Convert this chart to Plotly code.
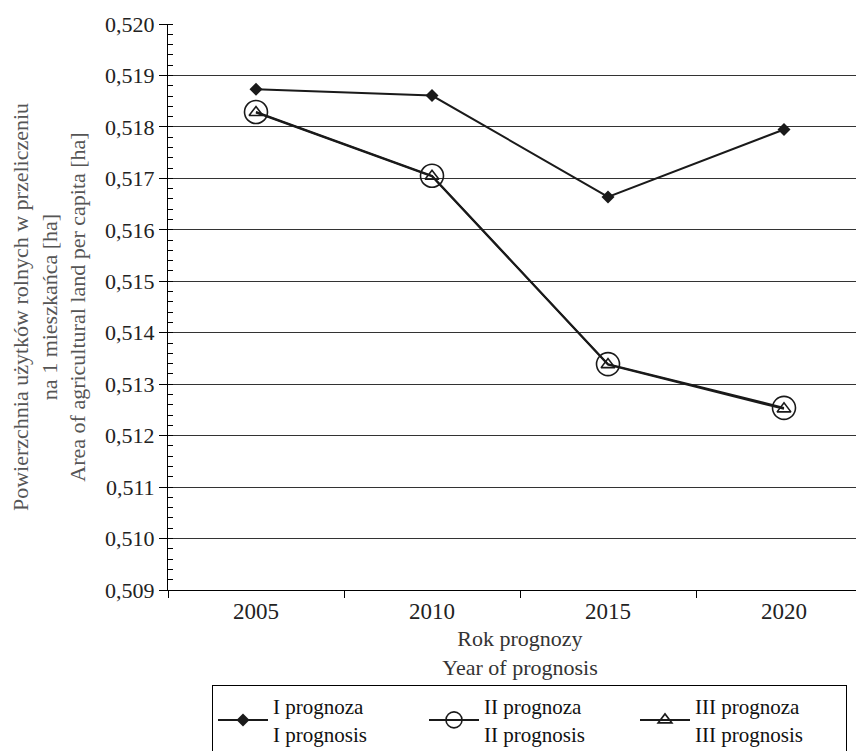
import plotly.graph_objects as go

years = ["2005", "2010", "2015", "2020"]
prog1 = [0.51873, 0.51861, 0.51664, 0.51795]
prog2 = [0.51829, 0.51705, 0.51339, 0.51254]
prog3 = [0.51828, 0.51704, 0.51338, 0.51252]

names = ["I prognoza<br>I prognosis", "II prognoza<br>II prognosis", "III prognoza<br>III prognosis"]
y_ticks = [0.509, 0.510, 0.511, 0.512, 0.513, 0.514, 0.515, 0.516, 0.517, 0.518, 0.519, 0.520]

FONT = "Liberation Serif"

fig = go.Figure()
fig.add_trace(go.Scatter(
    x=years, y=prog1, name=names[0], mode="lines+markers",
    line=dict(color="#1a1a1a", width=2),
    marker=dict(symbol="diamond", size=10, color="#1a1a1a"),
))
fig.add_trace(go.Scatter(
    x=years, y=prog2, name=names[1], mode="lines+markers",
    line=dict(color="#1a1a1a", width=2),
    marker=dict(symbol="circle-open", size=23, color="#1a1a1a", line=dict(width=1.6)),
))
fig.add_trace(go.Scatter(
    x=years, y=prog3, name=names[2], mode="lines+markers",
    line=dict(color="#1a1a1a", width=2),
    marker=dict(symbol="triangle-up-open", size=12, color="#1a1a1a", line=dict(width=1.6)),
))

fig.update_layout(
    width=864, height=751,
    margin=dict(l=160, r=0, t=16, b=169, autoexpand=False),
    paper_bgcolor="white", plot_bgcolor="white",
    separators=",.",
    font=dict(family=FONT, size=20, color="#222"),
    showlegend=True,
    legend=dict(
        orientation="h", x=0.0625, y=-0.168, xanchor="left", yanchor="top",
        bordercolor="black", borderwidth=1, bgcolor="white",
        font=dict(family=FONT, size=21, color="#111"),
        entrywidth=146, entrywidthmode="pixels",
        tracegroupgap=0, itemwidth=50,
    ),
    xaxis=dict(
        type="category", range=[-0.5, 3.5],
        tickson="boundaries", ticks="outside", ticklen=7, tickcolor="black",
        showline=True, linecolor="black", linewidth=1,
        showgrid=False, ticklabelstandoff=0,
        tickfont=dict(family=FONT, size=23, color="#222"),
        title=dict(text="Rok prognozy<br>Year of prognosis", standoff=8,
                   font=dict(family=FONT, size=22, color="#333")),
    ),
    yaxis=dict(
        range=[0.509, 0.520], tickvals=y_ticks, tickformat=".3f",
        ticks="outside", ticklen=8, tickcolor="black",
        showline=True, linecolor="black", linewidth=1,
        showgrid=True, gridcolor="#333", gridwidth=1.3,
        zeroline=False,
        tickfont=dict(family=FONT, size=22, color="#222"),
        minor=dict(ticks="inside", ticklen=5, dtick=0.0002, tickcolor="black", showgrid=False),
        title=dict(text="Powierzchnia użytków rolnych w przeliczeniu<br>na 1 mieszkańca [ha]<br>Area of agricultural land per capita [ha]",
                   standoff=18, font=dict(family=FONT, size=22, color="#555")),
    ),
)

fig.write_html("out.html")
